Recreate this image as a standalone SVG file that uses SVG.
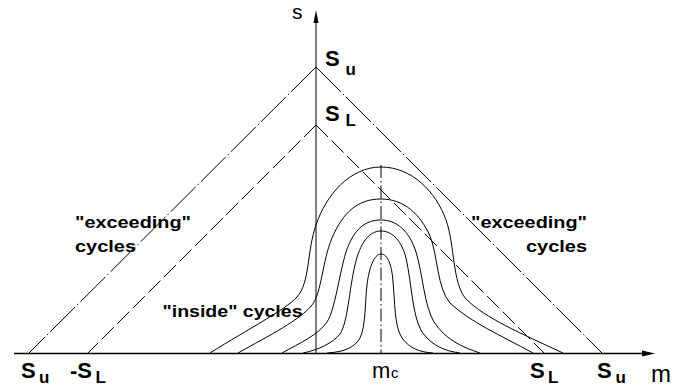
<svg xmlns="http://www.w3.org/2000/svg" width="686" height="389" viewBox="0 0 686 389">
<style>
.ln{fill:none;stroke:#000;stroke-width:1}
.dd{fill:none;stroke:#000;stroke-width:1;stroke-dasharray:35 3 1.5 3}
.da{fill:none;stroke:#000;stroke-width:1;stroke-dasharray:17 5}
.dc{fill:none;stroke:#000;stroke-width:1;stroke-dasharray:13 3 1.5 3}
.b{font-family:"Liberation Sans",Arial,sans-serif;font-weight:bold;fill:#000}
.r{font-family:"Liberation Sans",Arial,sans-serif;fill:#000}
</style>
<rect width="686" height="389" fill="#fff"/>
<g id="limits">
<path class="dd" d="M316,67 L28,354"/>
<path class="dd" d="M316,67 L603,354"/>
<path class="da" d="M316,125 L87,354"/>
<path class="da" d="M316,125 L545,354"/>
<path class="dc" d="M381,165 L381,354"/>
</g>
<g id="curves">
<path class="ln" d="M210,353 C250,328 285,310 297,297 C310,283 307,250 316,225 C326,195 350,167 381,167 C412,167 436,192 446,220 C455,245 452,283 466,299 C485,318 520,333 563,353"/>
<path class="ln" d="M238,353 C270,335 300,320 312,305 C322,292 322,262 332,238 C343,212 358,199 381,199 C404,199 420,214 430,236 C438,256 437,288 450,303 C470,322 500,335 533,353"/>
<path class="ln" d="M282,353 C300,343 318,335 327,322 C335,310 339,275 346,252 C354,228 366,220 381,220 C396,220 409,230 416,252 C423,275 424,305 434,322 C446,340 462,347 480,353"/>
<path class="ln" d="M303,353 C318,350 333,343 340,334 C348,322 349,290 355,265 C360,243 369,231 381,231 C393,231 402,242 406,258 C412,285 412,315 422,332 C432,346 445,351 460,353"/>
<path class="ln" d="M327,353 C345,352 355,347 360,338 C366,326 365,300 367,285 C369,268 374,254 381,254 C388,254 392,266 393,282 C395,300 394,326 402,338 C410,349 420,352 433,353"/>
</g>
<g id="axes">
<line x1="14" y1="353.5" x2="644" y2="353.5" stroke="#000" stroke-width="1.4"/>
<polygon points="655,353.5 642,350.5 642,356.5" fill="#000"/>
<line x1="316" y1="354" x2="316" y2="22" stroke="#000" stroke-width="1"/>
<polygon points="316,10 313.5,23 318.5,23" fill="#000"/>
</g>
<g id="labels">
<text class="r" x="292" y="18.5" font-size="21">s</text>
<text class="b" x="325" y="65.5" font-size="22">S</text>
<text class="b" x="345.5" y="74.5" font-size="17">u</text>
<text class="b" x="325" y="120.5" font-size="22">S</text>
<text class="b" x="345.5" y="126" font-size="17">L</text>
<text class="b" x="75" y="228" font-size="16" textLength="116" lengthAdjust="spacingAndGlyphs">"exceeding"</text>
<text class="b" x="75" y="252" font-size="16" textLength="61" lengthAdjust="spacingAndGlyphs">cycles</text>
<text class="b" x="471" y="228" font-size="16" textLength="116" lengthAdjust="spacingAndGlyphs">"exceeding"</text>
<text class="b" x="526" y="252" font-size="16" textLength="61" lengthAdjust="spacingAndGlyphs">cycles</text>
<text class="b" x="162.5" y="316.5" font-size="16" textLength="140" lengthAdjust="spacingAndGlyphs">"inside" cycles</text>
<text class="b" x="21" y="378.3" font-size="22">S</text>
<text class="b" x="39" y="383" font-size="17">u</text>
<text class="b" x="70" y="378.3" font-size="22">-S</text>
<text class="b" x="95.5" y="383" font-size="17">L</text>
<text class="b" x="530" y="378.3" font-size="22">S</text>
<text class="b" x="548" y="383" font-size="17">L</text>
<text class="b" x="597" y="378.3" font-size="22">S</text>
<text class="b" x="615.5" y="383" font-size="17">u</text>
<text class="r" x="372" y="378.3" font-size="22">m</text>
<text class="r" x="391" y="378.3" font-size="15">c</text>
<text class="r" x="651" y="381.7" font-size="24">m</text>
</g>
</svg>
